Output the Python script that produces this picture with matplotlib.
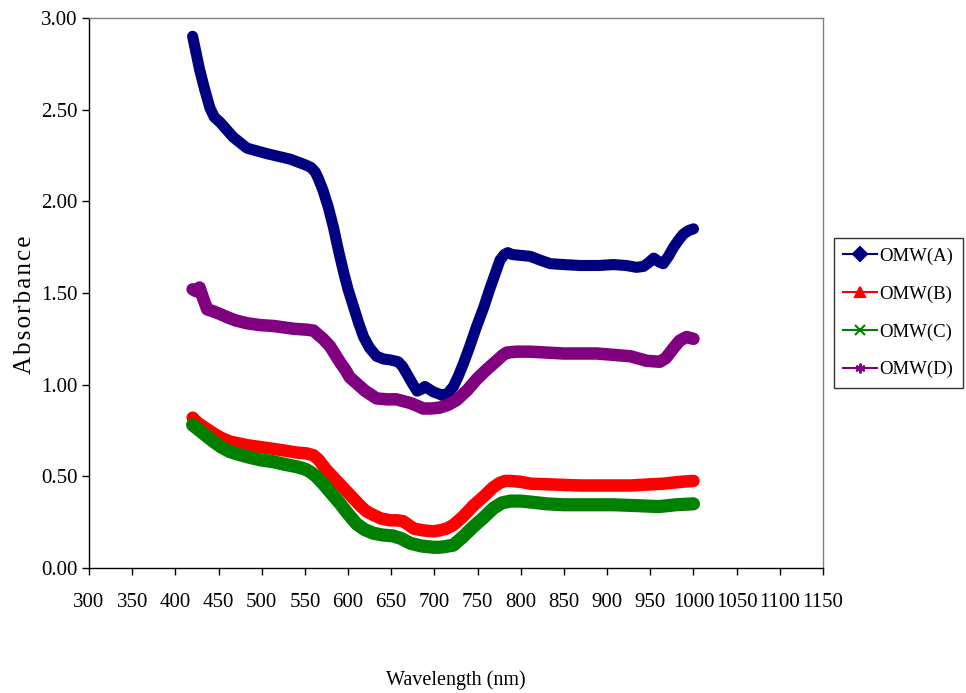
import matplotlib
matplotlib.use("Agg")
import matplotlib.pyplot as plt
from matplotlib.lines import Line2D

# ---- data ----
wl_A = [420, 424, 428, 434, 440, 445, 452, 467, 483, 506, 533, 550, 557, 562, 566, 571, 577, 583, 589, 595,
        600, 606, 612, 618, 625, 633, 641, 649, 658, 663, 668, 674, 680, 685, 689, 694, 699, 705, 710, 716,
        722, 728, 734, 741, 749, 757, 764, 770, 776, 781, 785, 790, 800, 811, 822, 834, 850, 869, 890, 907,
        922, 934, 942, 948, 954, 960, 965, 971, 977, 983, 988, 994, 1000]
abs_A = [2.90, 2.81, 2.72, 2.61, 2.51, 2.46, 2.43, 2.35, 2.29, 2.26, 2.23, 2.20, 2.185, 2.16, 2.12, 2.06,
         1.97, 1.86, 1.73, 1.61, 1.52, 1.43, 1.34, 1.26, 1.20, 1.155, 1.14, 1.135, 1.125, 1.10, 1.06, 1.01,
         0.965, 0.975, 0.99, 0.975, 0.96, 0.95, 0.94, 0.955, 0.99, 1.05, 1.12, 1.21, 1.32, 1.42, 1.52, 1.60,
         1.68, 1.71, 1.72, 1.71, 1.705, 1.70, 1.68, 1.66, 1.655, 1.65, 1.65, 1.655, 1.65, 1.64, 1.645, 1.665,
         1.69, 1.67, 1.66, 1.70, 1.75, 1.79, 1.82, 1.84, 1.85]

wl_B = [420, 424, 428, 436, 444, 453, 463, 473, 483, 498, 513, 527, 540, 552, 560, 566, 575, 584, 594, 604,
        614, 621, 629, 638, 649, 657, 664, 670, 676, 687, 699, 706, 714, 722, 733, 745, 757, 768, 776, 782,
        788, 800, 811, 840, 869, 900, 927, 945, 965, 985, 1000]
abs_B = [0.82, 0.80, 0.785, 0.76, 0.735, 0.71, 0.69, 0.68, 0.67, 0.66, 0.65, 0.64, 0.63, 0.625, 0.615, 0.59,
         0.535, 0.49, 0.44, 0.39, 0.34, 0.31, 0.29, 0.27, 0.26, 0.26, 0.255, 0.235, 0.215, 0.205, 0.20, 0.205,
         0.215, 0.235, 0.28, 0.34, 0.39, 0.44, 0.465, 0.475, 0.475, 0.47, 0.46, 0.455, 0.45, 0.45, 0.45, 0.455,
         0.46, 0.47, 0.475]

wl_C = [420, 424, 428, 436, 444, 453, 463, 473, 483, 498, 513, 527, 540, 550, 556, 563, 571, 581, 591, 600,
        610, 619, 629, 640, 652, 662, 672, 685, 699, 706, 714, 722, 733, 745, 757, 768, 778, 788, 800, 811,
        830, 849, 880, 907, 935, 960, 980, 1000]
abs_C = [0.78, 0.765, 0.75, 0.72, 0.69, 0.66, 0.635, 0.62, 0.607, 0.59, 0.58, 0.565, 0.553, 0.54, 0.525, 0.50,
         0.46, 0.405, 0.35, 0.295, 0.24, 0.21, 0.19, 0.18, 0.175, 0.16, 0.135, 0.12, 0.113, 0.113, 0.118, 0.125,
         0.17, 0.225, 0.275, 0.325, 0.355, 0.365, 0.365, 0.36, 0.35, 0.345, 0.345, 0.345, 0.34, 0.335, 0.345,
         0.35]

wl_D = [420, 424, 428, 433, 437, 444, 452, 459, 470, 483, 498, 514, 537, 552, 560, 566, 571, 579, 585, 591,
        597, 602, 608, 614, 620, 625, 633, 645, 656, 664, 672, 680, 687, 697, 706, 716, 726, 738, 749, 760,
        772, 779, 784, 795, 811, 830, 849, 888, 927, 946, 961, 968, 977, 984, 992, 1000]
abs_D = [1.52, 1.51, 1.53, 1.46, 1.41, 1.40, 1.385, 1.37, 1.35, 1.335, 1.325, 1.32, 1.305, 1.30, 1.295, 1.27,
         1.25, 1.21, 1.165, 1.12, 1.08, 1.04, 1.015, 0.99, 0.965, 0.95, 0.925, 0.92, 0.92, 0.91, 0.90, 0.885,
         0.87, 0.87, 0.875, 0.89, 0.917, 0.97, 1.03, 1.08, 1.13, 1.16, 1.175, 1.18, 1.18, 1.175, 1.17, 1.17,
         1.155, 1.13, 1.125, 1.145, 1.20, 1.24, 1.26, 1.25]

labels = ["OMW(A)", "OMW(B)", "OMW(C)", "OMW(D)"]
colors = ["#000080", "#FF0000", "#008000", "#800080"]
markers = ["D", "^", "x", (6, 2, 0)]
x_ticks = list(range(300, 1151, 50))
y_ticks = [0.0, 0.5, 1.0, 1.5, 2.0, 2.5, 3.0]

plt.rcParams['font.family'] = ['Liberation Serif', 'DejaVu Serif']

fig = plt.figure(figsize=(9.66, 6.93), dpi=100)
ax = fig.add_axes([89/966, 1-568/693, (823-89)/966, (568-18)/693])

series = [(wl_A, abs_A), (wl_B, abs_B), (wl_C, abs_C), (wl_D, abs_D)]
widths = [8.0, 9.0, 9.5, 9.0]
for (x, y), c, w in zip(series, colors, widths):
    ax.plot(x, y, color=c, lw=w, solid_joinstyle='round', solid_capstyle='round')

ax.set_xlim(300, 1150)
ax.set_ylim(0, 3.0)
ax.set_xticks(x_ticks)
ax.set_xticklabels([str(t) for t in x_ticks])
ax.set_yticks(y_ticks)
ax.set_yticklabels([f"{t:.2f}" for t in y_ticks])
ax.tick_params(axis='both', direction='out', length=5, width=1, labelsize=15, color='black')
ax.tick_params(axis='x', pad=13)
ax.tick_params(axis='y', pad=3)

for s in ['left', 'bottom']:
    ax.spines[s].set_color('black')
    ax.spines[s].set_linewidth(1.0)
for s in ['top', 'right']:
    ax.spines[s].set_color('#808080')
    ax.spines[s].set_linewidth(1.0)

fig.text(25/966, 1-305/693, "A\u200ab\u200as\u200ao\u200ar\u200ab\u200aa\u200an\u200ac\u200ae", rotation=90,
         ha='center', va='center', fontsize=18)
fig.text(456/966, 1-680/693, "Wavelength (nm)", ha='center', va='center', fontsize=14.5)

handles = [Line2D([0], [0], color=c, lw=1.5, marker=m, markersize=7, markeredgewidth=1.5)
           for c, m in zip(colors, markers)]
leg = fig.legend(handles, labels, loc='upper right', bbox_to_anchor=(963/966, 1-238/693),
                 fontsize=13.5, frameon=True, fancybox=False, edgecolor='black',
                 handlelength=1.8, handletextpad=0.15, labelspacing=1.1, borderpad=0.5,
                 borderaxespad=0)
leg.get_frame().set_linewidth(1.0)

fig.savefig("out.png", dpi=100)
